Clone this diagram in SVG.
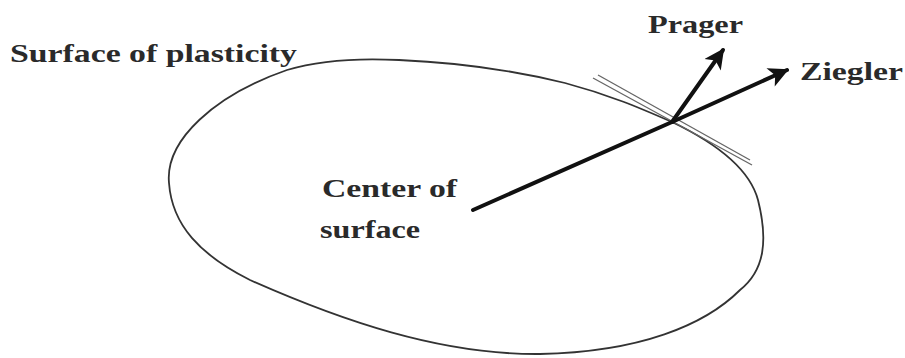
<svg xmlns="http://www.w3.org/2000/svg" width="905" height="358" viewBox="0 0 905 358">
<style>
text{font-family:"Liberation Serif","DejaVu Serif",serif;font-size:25px;font-weight:bold;fill:#2a2a2a}
.outline{fill:none;stroke:#333;stroke-width:1.8}
.tan{stroke:#666;stroke-width:1.3;fill:none}
.vec{stroke:#111;stroke-width:4;fill:none;stroke-linecap:round}
</style>
<defs>
<marker id="ah" viewBox="0 0 10 10" refX="9" refY="5" markerWidth="7" markerHeight="5" markerUnits="strokeWidth" orient="auto">
<path d="M0,0 L10,5 L0,10 L2.5,5 Z" fill="#111"/>
</marker>
</defs>
<g id="surface">
<path class="outline" d="M169,183 C165,140 215,95 287,70 C320,60 360,58 399,60 C470,63 520,72 565,83 C610,95 640,108 672,122 C720,145 750,170 758,200 C768,240 765,270 740,290 C705,325 640,352 540,354 C440,355 340,320 250,280 C200,255 172,225 169,183 Z"/>
<text x="10" y="62" textLength="287" lengthAdjust="spacingAndGlyphs">Surface of plasticity</text>
</g>
<g id="tangent">
<line class="tan" x1="593" y1="78" x2="752" y2="165"/>
<line class="tan" x1="598" y1="75" x2="750" y2="160"/>
</g>
<g id="center">
<text x="322" y="197" textLength="135" lengthAdjust="spacingAndGlyphs">Center of</text>
<text x="320" y="238" textLength="100" lengthAdjust="spacingAndGlyphs">surface</text>
</g>
<g id="prager">
<text x="648" y="33" textLength="95" lengthAdjust="spacingAndGlyphs">Prager</text>
</g>
<g id="ziegler">
<text x="800" y="80" textLength="103" lengthAdjust="spacingAndGlyphs">Ziegler</text>
</g>
<g id="connectors">
<line class="vec" x1="473" y1="210" x2="672" y2="122"/>
<line class="vec" x1="672" y1="122" x2="787" y2="70" marker-end="url(#ah)"/>
<line class="vec" x1="672" y1="122" x2="723" y2="50" marker-end="url(#ah)"/>
</g>
</svg>
